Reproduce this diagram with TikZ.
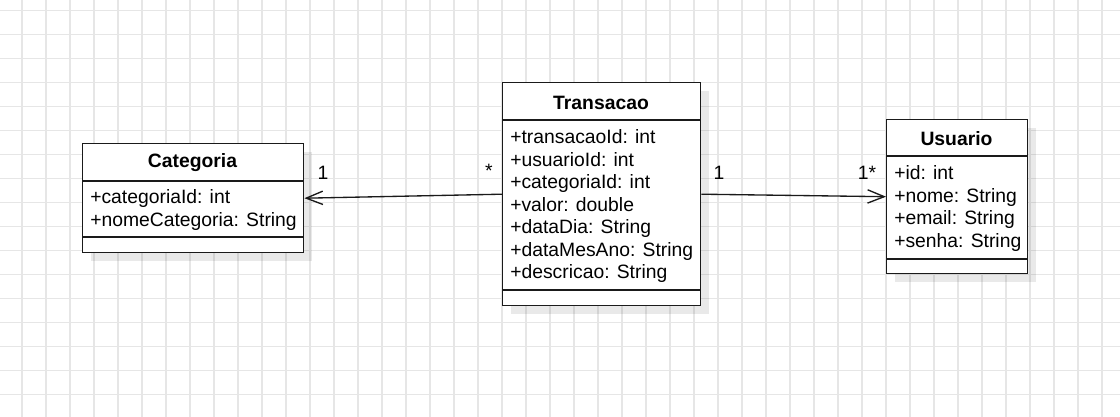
\documentclass[tikz,border=0pt]{standalone}
\usepackage{fontspec}
\setmainfont{Liberation Sans}
\usetikzlibrary{arrows.meta,calc}
\definecolor{gridc}{HTML}{E6E6E6}
\definecolor{edgec}{HTML}{1A1A1A}
\tikzset{
  classbox/.style={draw=edgec, line width=1.05pt, fill=white, rectangle, anchor=north west, inner sep=0pt},
  shadowbox/.style={fill=black, opacity=0.085, draw=none},
  sepline/.style={draw=edgec, line width=1.05pt},
  title/.style={font=\fontsize{14.5}{16.8}\selectfont\bfseries, inner sep=0pt},
  attr/.style={font=\fontsize{14.5}{16.8}\selectfont, anchor=west, inner sep=0pt, text height=7.5pt, text depth=0pt},
  mult/.style={font=\fontsize{14.5}{16.8}\selectfont, inner sep=0pt},
  assoc/.style={draw=edgec, line width=1pt, -{Straight Barb[length=12.5pt,width=10pt,line width=1pt]}},
}
\begin{document}
\begin{tikzpicture}[x=0.75pt,y=-0.75pt]
\useasboundingbox (0,0) rectangle (1120,417);
\fill[white] (0,0) rectangle (1120,417);
% grid
\foreach \gx in {0,...,45} \draw[gridc, line width=1.1pt] ({22+24*\gx},0) -- ({22+24*\gx},417);
\foreach \gy in {0,...,16} \draw[gridc, line width=1.1pt] (0,{10.7+24*\gy}) -- (1120,{10.7+24*\gy});

% shadows
\fill[shadowbox] (91,152) rectangle (312,261);
\fill[shadowbox] (511,91) rectangle (709,314);
\fill[shadowbox] (895,128) rectangle (1036,282);

% Categoria
\node[classbox, minimum width=165.75pt, minimum height=81.75pt] (C) at (82,143) {};
\draw[sepline] (82,181) -- (303,181);
\draw[sepline] (82,237) -- (303,237);
\node[title] (Ct) at (192.5,163) {Categoria};
\node[attr] (C1) at (90,199) {+categoriaId: int};
\node[attr] (C2) at (90,221.5) {+nomeCategoria: String};

% Transacao
\node[classbox, minimum width=148.5pt, minimum height=167.25pt] (T) at (502,82) {};
\draw[sepline] (502,120) -- (700,120);
\draw[sepline] (502,290) -- (700,290);
\node[title] (Tt) at (601,102.5) {Transacao};
\node[attr] (T1) at (510,139) {+transacaoId: int};
\node[attr] (T2) at (510,161.4) {+usuarioId: int};
\node[attr] (T3) at (510,183.8) {+categoriaId: int};
\node[attr] (T4) at (510,206.2) {+valor: double};
\node[attr] (T5) at (510,228.6) {+dataDia: String};
\node[attr] (T6) at (510,251) {+dataMesAno: String};
\node[attr] (T7) at (510,273.4) {+descricao: String};

% Usuario
\node[classbox, minimum width=105.75pt, minimum height=115.5pt] (U) at (886,119) {};
\draw[sepline] (886,156) -- (1027,156);
\draw[sepline] (886,259) -- (1027,259);
\node[title] (Ut) at (956.5,138.5) {Usuario};
\node[attr] (U1) at (894,174.5) {+id: int};
\node[attr] (U2) at (894,197) {+nome: String};
\node[attr] (U3) at (894,219.5) {+email: String};
\node[attr] (U4) at (894,242) {+senha: String};

% associations
\draw[assoc] (T.west) -- (C.east);
\draw[assoc] (T.east) -- (U.west);
\node[mult] (m1) at (323,173) {1};
\node[mult] (m2) at (489,171) {*};
\node[mult] (m3) at (719,173) {1};
\node[mult] (m4) at (867,173) {1*};
\end{tikzpicture}
\end{document}
